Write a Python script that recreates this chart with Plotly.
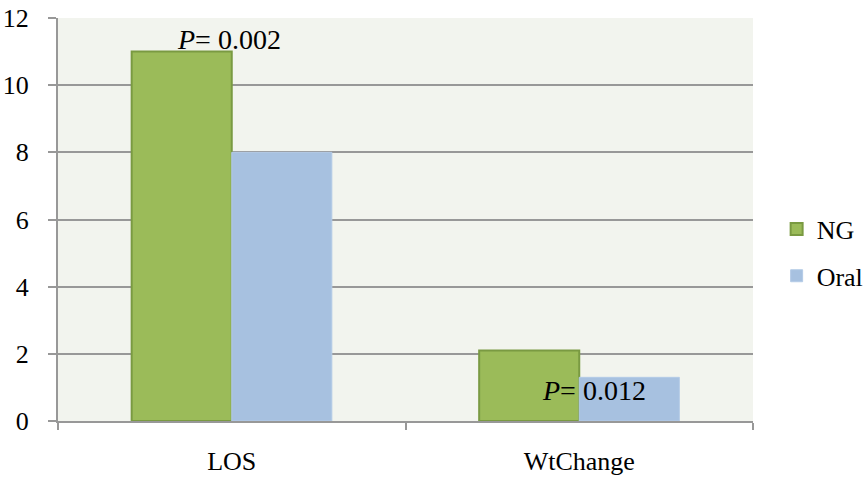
import plotly.graph_objects as go

categories = ["LOS", "WtChange"]
ng_values = [11, 2.1]
oral_values = [8, 1.3]
p_labels = ["<i>P</i>= 0.002", "<i>P</i>= 0.012"]

FONT = "Times New Roman"
GRID = "#989898"
AXIS_FONT = dict(family=FONT, size=26, color="rgb(0,0,0)")
NOTE_FONT = dict(family=FONT, size=28, color="rgb(0,0,0)")

fig = go.Figure()
fig.add_trace(go.Bar(
    x=categories, y=ng_values, name="NG", legendgroup="ng",
    marker=dict(color="#9bbb59", line=dict(color="#7a9a42", width=2)),
))
fig.add_trace(go.Bar(
    x=categories, y=oral_values, name="Oral", legendgroup="oral",
    marker=dict(color="#a7c1e0", line=dict(color="#b4cbe6", width=1)),
))

# P-value labels: above the NG bar for LOS, inside the Oral bar for WtChange
fig.add_annotation(x=categories[0], y=ng_values[0], text=p_labels[0],
                   showarrow=False, yanchor="middle", yshift=12, xshift=-3,
                   font=NOTE_FONT)
fig.add_annotation(x=categories[1], y=oral_values[1], text=p_labels[1],
                   showarrow=False, yanchor="middle", yshift=-13, xshift=15,
                   font=NOTE_FONT)

fig.update_layout(
    width=864, height=477,
    margin=dict(l=58, r=111, t=18, b=56, autoexpand=False),
    paper_bgcolor="white",
    plot_bgcolor="#f2f4ee",
    barmode="group",
    bargap=0.424,
    bargroupgap=0,
    font=AXIS_FONT,
    legend=dict(x=1.034, xanchor="left", y=0.418, yanchor="middle",
                tracegroupgap=10, font=AXIS_FONT),
    showlegend=True,
)
fig.update_xaxes(
    type="category", showgrid=False, showline=True, linecolor=GRID, linewidth=2,
    ticks="outside", tickson="boundaries", ticklen=7, tickcolor=GRID, tickwidth=2,
    ticklabelstandoff=16, automargin=False, tickfont=AXIS_FONT,
)
fig.update_yaxes(
    range=[0, 12], dtick=2, showgrid=True, gridcolor=GRID, gridwidth=2,
    showline=True, linecolor=GRID, linewidth=2, zeroline=False,
    ticks="outside", ticklen=8, tickcolor=GRID, tickwidth=2,
    ticklabelstandoff=14, automargin=False, tickfont=AXIS_FONT,
)

fig.write_html("out.html")
